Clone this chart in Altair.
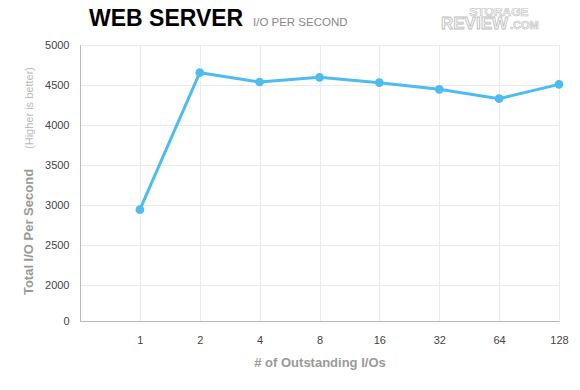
import altair as alt
import pandas as pd

# ---- data ----
categories = ["1", "2", "4", "8", "16", "32", "64", "128"]
iops = [2942, 4654, 4537, 4596, 4529, 4446, 4329, 4508]

x_domain = [""] + categories          # leading empty slot gives the left gap
y_ticks = [1550, 2000, 2500, 3000, 3500, 4000, 4500, 5000]

df = pd.DataFrame({"qd": categories, "iops": iops})

FONT = "Liberation Sans"
BLUE = "#4dbcee"

x_enc = alt.X(
    "qd:O",
    scale=alt.Scale(type="point", domain=x_domain, padding=0),
    sort=x_domain,
    axis=alt.Axis(
        title="# of Outstanding I/Os",
        titleFont=FONT, titleFontSize=13, titleFontWeight="bold", titleColor="#9a9a9a",
        titlePadding=11,
        labelFont=FONT, labelFontSize=11, labelColor="#444444", labelAngle=0,
        labelPadding=13, ticks=False,
        domainColor="#bbbbbb",
        grid=True, gridColor="#ebebeb",
    ),
)
y_enc = alt.Y(
    "iops:Q",
    scale=alt.Scale(domain=[1550, 5000], nice=False, zero=False),
    axis=alt.Axis(
        title=None,
        values=y_ticks,
        labelExpr="datum.value < 2000 ? '0' : datum.value",
        labelFont=FONT, labelFontSize=11, labelColor="#444444",
        labelPadding=11, ticks=False,
        domainColor="#bbbbbb",
        grid=True, gridColor="#ebebeb",
    ),
)

line = alt.Chart(df).mark_line(color=BLUE, strokeWidth=3).encode(x=x_enc, y=y_enc)
pts = alt.Chart(df).mark_circle(color=BLUE, size=75, opacity=1).encode(x=x_enc, y=y_enc)

def label(text, x, y, **kw):
    return alt.Chart(pd.DataFrame({"t": [text]})).mark_text(font=FONT, **kw).encode(
        text="t:N", x=alt.value(x), y=alt.value(y)
    )

title = label("WEB SERVER", 9, -19, fontSize=23, fontWeight="bold", color="#000000",
              align="left", baseline="alphabetic")
subtitle = label("I/O PER SECOND", 173, -19, fontSize=11.5, color="#888888",
                 align="left", baseline="alphabetic")
logo1 = label("STORAGE", 419, -29, fontSize=12, fontWeight="bold", color="#f5f5f5",
              stroke="#c0c0c0", strokeWidth=0.6, align="center", baseline="alphabetic")
logo2 = label("REVIEW", 361, -16, fontSize=17, fontWeight="bold", color="#f5f5f5",
              stroke="#c0c0c0", strokeWidth=0.8, align="left", baseline="alphabetic")
logo3 = label(".COM", 430, -16, fontSize=11, fontWeight="bold", color="#f5f5f5",
              stroke="#c0c0c0", strokeWidth=0.6, align="left", baseline="alphabetic")
ytitle = label("Total I/O Per Second", -47, 187, fontSize=13, fontWeight="bold",
               color="#9a9a9a", angle=270, align="center", baseline="alphabetic")
ysub = label("(Higher is better)", -47, 63, fontSize=11, color="#bbbbbb",
             angle=270, align="center", baseline="alphabetic")

chart = alt.layer(line, pts, title, subtitle, logo1, logo2, logo3, ytitle, ysub).properties(
    width=479, height=276,
    autosize=alt.AutoSizeParams(type="none"),
    padding={"left": 72, "top": 37, "right": 13, "bottom": 61},
).configure_view(stroke="#bbbbbb", strokeWidth=1).configure(background="white")

chart.save("out.html", embed_options={"renderer": "svg", "actions": False})
